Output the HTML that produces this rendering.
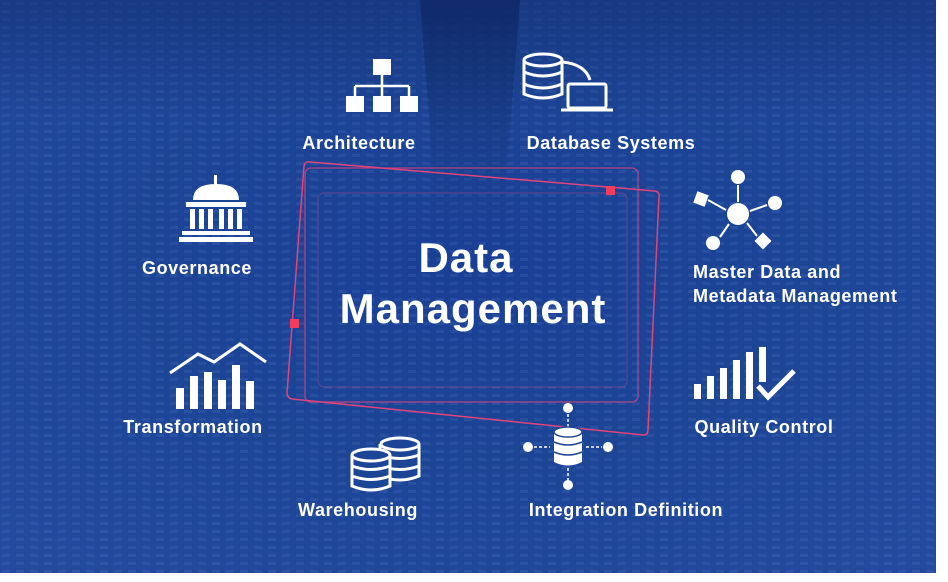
<!DOCTYPE html>
<html><head><style>
html,body{margin:0;padding:0;background:#fff;width:948px;height:582px;overflow:hidden}
svg{display:block}
text{font-family:"Liberation Sans",sans-serif;font-weight:bold;fill:#fff}
.l{font-size:18px;letter-spacing:0.6px}
</style></head><body>
<svg width="948" height="582" viewBox="0 0 948 582">
<defs>
<radialGradient id="bg" cx="0.5" cy="0.45" r="0.7">
<stop offset="0" stop-color="#1a3f96"/>
<stop offset="0.5" stop-color="#1d4596"/>
<stop offset="1" stop-color="#234a9e"/>
</radialGradient>
<linearGradient id="mid" x1="0" y1="0" x2="0" y2="1">
<stop offset="0" stop-color="#0d2461" stop-opacity="0.8"/>
<stop offset="0.5" stop-color="#153577" stop-opacity="0.4"/>
<stop offset="1" stop-color="#1d4596" stop-opacity="0"/>
</linearGradient>
<linearGradient id="top" x1="0" y1="0" x2="0" y2="1">
<stop offset="0" stop-color="#0f2a6a" stop-opacity="0.5"/>
<stop offset="1" stop-color="#0f2a6a" stop-opacity="0"/>
</linearGradient>
<pattern id="stripes" width="14" height="8" patternUnits="userSpaceOnUse">
<rect x="2" y="2" width="8" height="3" fill="#5d86cf" opacity="0.18"/>
</pattern>
</defs>
<rect x="0" y="0" width="936" height="573" fill="url(#bg)"/>
<rect x="0" y="0" width="936" height="573" fill="url(#stripes)"/>
<polygon points="420,0 520,0 500,260 440,260" fill="url(#mid)"/>
<rect x="0" y="0" width="936" height="120" fill="url(#top)"/>

<!-- frames -->
<rect x="318" y="193" width="309" height="194" rx="6" fill="none" stroke="#c04a86" stroke-opacity="0.45" stroke-width="1"/>
<rect x="305" y="168" width="333" height="234" rx="6" fill="none" stroke="#d6457e" stroke-opacity="0.8" stroke-width="1.3"/>
<path d="M310,162 L655,191 Q660,192 659,197 L648,430 Q648,435 643,435 L292,399 Q287,398 287,393 L304,166 Q305,161 310,162 Z" fill="none" stroke="#e0457a" stroke-width="1.5"/>
<rect x="606" y="186" width="9" height="9" fill="#f03d5e"/>
<rect x="290" y="319" width="9" height="9" fill="#f03d5e"/>

<text x="466" y="272" font-size="42" letter-spacing="1" text-anchor="middle">Data</text>
<text x="473" y="323" font-size="42" letter-spacing="1" text-anchor="middle">Management</text>

<!-- Architecture icon -->
<g fill="#fff" stroke="#fff">
<rect x="373" y="59" width="18" height="16" stroke="none"/>
<path d="M382,75 V86 M355,86 H409 M355,86 V96 M382,86 V96 M409,86 V96" fill="none" stroke-width="2.5"/>
<rect x="346" y="96" width="18" height="16" stroke="none"/>
<rect x="373" y="96" width="18" height="16" stroke="none"/>
<rect x="400" y="96" width="18" height="16" stroke="none"/>
</g>
<text x="359" y="149" class="l" text-anchor="middle">Architecture</text>

<!-- Database systems -->
<g fill="none" stroke="#fff" stroke-width="3">
<ellipse cx="543" cy="60" rx="19" ry="6"/>
<path d="M524,60 V94 Q543,102 562,94 V60 M524,72 Q543,80 562,72 M524,84 Q543,92 562,84"/>
<rect x="568" y="84" width="38" height="24" rx="2"/>
<path d="M561,110 H613"/>
<path d="M562,62 Q585,64 590,80"/>
</g>
<text x="611" y="149" class="l" text-anchor="middle">Database Systems</text>

<!-- Governance -->
<g fill="#fff">
<path d="M193,200 Q193,184 216,184 Q239,184 239,200 Z"/>
<rect x="214" y="175" width="3" height="10"/>
<rect x="186" y="202" width="60" height="5"/>
<rect x="190" y="209" width="5" height="20"/><rect x="199" y="209" width="5" height="20"/><rect x="208" y="209" width="5" height="20"/>
<rect x="219" y="209" width="5" height="20"/><rect x="228" y="209" width="5" height="20"/><rect x="237" y="209" width="5" height="20"/>
<rect x="182" y="231" width="68" height="4"/><rect x="179" y="237" width="74" height="5"/>
</g>
<text x="197" y="274" class="l" text-anchor="middle">Governance</text>

<!-- Master data -->
<g fill="#fff" stroke="#fff" stroke-width="2">
<circle cx="738" cy="214" r="11" stroke="none"/>
<circle cx="738" cy="177" r="7" stroke="none"/>
<circle cx="775" cy="203" r="7" stroke="none"/>
<circle cx="713" cy="243" r="7" stroke="none"/>
<rect x="695" y="193" width="12" height="12" transform="rotate(20 701 199)" stroke="none"/>
<rect x="757" y="235" width="12" height="12" transform="rotate(45 763 241)" stroke="none"/>
<path d="M738,185 V202 M767,205 L750,211 M720,237 L729,224 M708,200 L726,210 M757,236 L747,223" fill="none"/>
</g>
<text x="693" y="278" class="l">Master Data and</text>
<text x="693" y="302" class="l">Metadata Management</text>

<!-- Transformation -->
<g fill="#fff">
<rect x="176" y="388" width="8" height="21"/><rect x="190" y="376" width="8" height="33"/>
<rect x="204" y="372" width="8" height="37"/><rect x="218" y="380" width="8" height="29"/>
<rect x="232" y="365" width="8" height="44"/><rect x="246" y="381" width="8" height="28"/>
<path d="M170,373 L198,354 L214,362 L240,344 L266,362" fill="none" stroke="#fff" stroke-width="3"/>
</g>
<text x="193" y="433" class="l" text-anchor="middle">Transformation</text>

<!-- Quality control -->
<g fill="#fff">
<rect x="694" y="384" width="7" height="15"/><rect x="707" y="376" width="7" height="23"/>
<rect x="720" y="368" width="7" height="31"/><rect x="733" y="360" width="7" height="39"/>
<rect x="746" y="352" width="7" height="47"/><rect x="759" y="347" width="7" height="35"/>
<path d="M758,386 L768,397 L794,371" fill="none" stroke="#fff" stroke-width="5"/>
</g>
<text x="764" y="433" class="l" text-anchor="middle">Quality Control</text>

<!-- Warehousing -->
<g fill="#1d4596" stroke="#fff" stroke-width="3">
<path d="M380,444 V476 Q400,484 419,476 V444 M380,455 Q400,462 419,455 M380,466 Q400,473 419,466"/>
<ellipse cx="400" cy="444" rx="19" ry="6"/>
<path d="M352,455 V486 Q371,494 390,486 V455 M352,466 Q371,473 390,466 M352,476 Q371,483 390,476"/>
<ellipse cx="371" cy="455" rx="19" ry="6"/>
</g>
<text x="358" y="516" class="l" text-anchor="middle">Warehousing</text>

<!-- Integration -->
<g fill="#fff" stroke="#fff" stroke-width="1.5">
<circle cx="568" cy="408" r="5" stroke="none"/>
<circle cx="568" cy="485" r="5" stroke="none"/>
<circle cx="528" cy="447" r="5" stroke="none"/>
<circle cx="608" cy="447" r="5" stroke="none"/>
<path d="M568,414 V428 M568,468 V480 M534,447 H550 M586,447 H602" fill="none" stroke-dasharray="3,2"/>
<path d="M554,432 V462 Q568,469 582,462 V432 Z" stroke="none"/>
<ellipse cx="568" cy="432" rx="14" ry="5" stroke="#1d4596"/>
<path d="M554,442 Q568,448 582,442 M554,452 Q568,458 582,452" fill="none" stroke="#1d4596"/>
</g>
<text x="626" y="516" class="l" text-anchor="middle">Integration Definition</text>
</svg>
</body></html>
